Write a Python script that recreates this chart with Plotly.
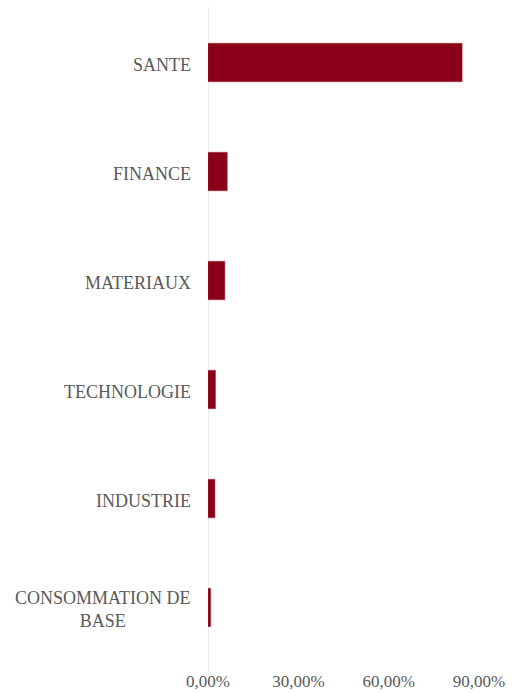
import plotly.graph_objects as go

categories = ["SANTE", "FINANCE", "MATERIAUX", "TECHNOLOGIE", "INDUSTRIE", "CONSOMMATION DE<br>BASE"]
values = [0.844, 0.064, 0.056, 0.025, 0.023, 0.009]
x_ticks = [0, 0.3, 0.6, 0.9]
x_tick_labels = ["0,00%", "30,00%", "60,00%", "90,00%"]

bar_color = "#8B0018"
text_color = "#595959"
font_family = "Liberation Serif"

fig = go.Figure(go.Bar(
    y=categories,
    x=values,
    orientation="h",
    marker=dict(color=bar_color, line=dict(color="#A0303F", width=0.5)),
    hoverinfo="skip",
))

annotations = []
for c in categories:
    annotations.append(dict(
        x=0, xref="paper", y=c, yref="y",
        text=c, showarrow=False, xanchor="right", yanchor="middle",
        xshift=-15, yshift=-2, align="center",
        font=dict(family=font_family, size=18, color=text_color),
    ))

fig.update_layout(
    width=519, height=693,
    margin=dict(l=208, r=40, t=8, b=31),
    paper_bgcolor="white", plot_bgcolor="white",
    showlegend=False,
    bargap=0.647,
    annotations=annotations,
    font=dict(family=font_family, size=18, color=text_color),
    shapes=[dict(type="line", xref="x", yref="paper", x0=0, x1=0,
                 y0=-0.0145, y1=1.0015, line=dict(color="#D9D9D9", width=1),
                 layer="below")],
)
fig.update_xaxes(
    range=[0, 0.9], automargin=False,
    tickvals=x_ticks, ticktext=x_tick_labels,
    showgrid=False, zeroline=False, showline=False,
    ticks="outside", ticklen=4, tickcolor="rgba(0,0,0,0)",
    tickfont=dict(family=font_family, size=17, color=text_color),
)
fig.update_yaxes(
    categoryorder="array", categoryarray=categories[::-1],
    showticklabels=False, showgrid=False, zeroline=False, automargin=False,
    showline=False,
)

fig.write_html("out.html", config={"displayModeBar": False},
               post_script="document.body.style.margin='0';")
